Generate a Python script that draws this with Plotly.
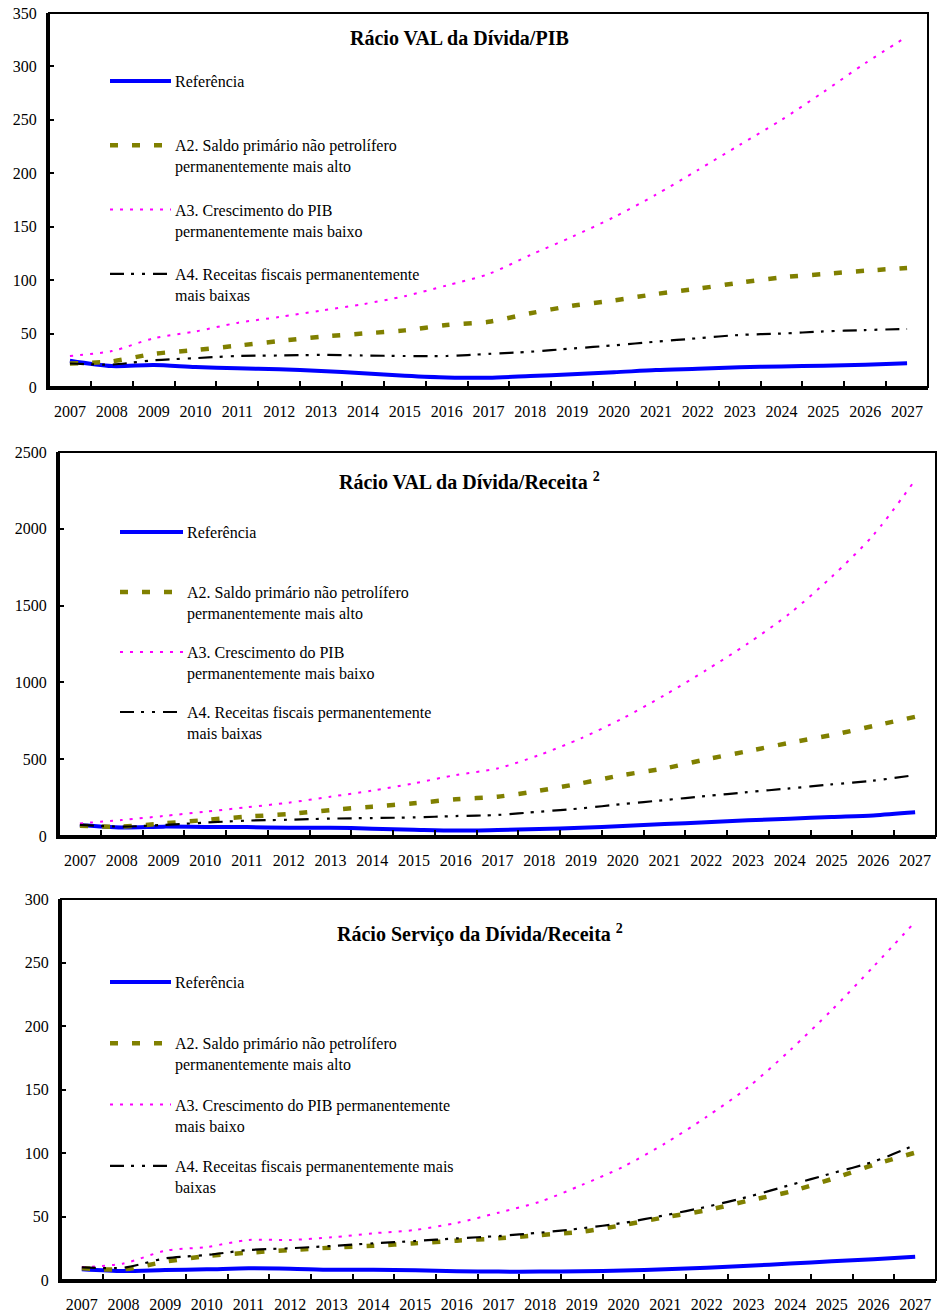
import plotly.graph_objects as go

W, H = 937, 1315
years = [str(y) for y in range(2007, 2028)]

# Panel 1: Rácio VAL da Dívida/PIB
pib_ref = [24.6, 19.6, 20.6, 18.7, 17.5, 16.5, 15.0, 12.8, 10.6, 9.0, 8.7,
           10.3, 11.9, 13.7, 15.9, 17.1, 18.4, 19.3, 19.9, 20.9, 22.2]
pib_a2 = [22, 24, 31, 34.6, 38.7, 43, 47, 50, 53, 58, 61,
          69, 76, 81, 87, 92, 97.6, 102.6, 105.7, 108.8, 111.4]
pib_a3 = [29, 33.6, 45.6, 52, 60, 65.5, 71.5, 77.5, 85, 95, 105.7,
          123.5, 140.6, 159, 180, 203, 226.5, 250, 276, 303, 328]
pib_a4 = [22, 21, 25, 27, 29, 29.5, 30, 29.5, 29, 29, 31,
          33, 36, 39, 42.4, 45.6, 48.7, 50, 52, 53.3, 54.3]

# Panel 2: Rácio VAL da Dívida/Receita
rec_ref = [72, 56, 61, 59, 58, 54, 54, 48, 41, 35, 39,
           45, 54, 65, 78, 89, 102, 113, 124, 134, 154]
rec_a2 = [67, 61, 82, 104, 126, 143, 169, 191, 213, 239, 256,
          295, 343, 397, 440, 499, 553, 607, 657, 716, 776]
rec_a3 = [82, 104, 130, 158, 187, 217, 256, 295, 343, 397, 440,
          527, 636, 766, 917, 1080, 1254, 1449, 1687, 1959, 2317]
rec_a4 = [72, 61, 72, 87, 100, 106, 113, 117, 121, 130, 137,
          158, 180, 208, 234, 260, 286, 310, 336, 360, 397]

# Panel 3: Rácio Serviço da Dívida/Receita
srv_ref = [8.4, 7.0, 7.9, 8.4, 9.2, 8.9, 8.1, 8.1, 7.6, 6.8, 6.6,
           6.6, 6.8, 7.4, 8.4, 9.7, 11.3, 12.9, 14.7, 16.3, 18.4]
srv_a2 = [9.2, 8.4, 14.4, 18.9, 21.5, 23.6, 25.5, 27.0, 28.9, 31.0, 32.8,
          35.4, 38.0, 43.3, 49.4, 55.0, 62.5, 69.6, 79.5, 90.6, 100.3]
srv_a3 = [10, 13, 23, 26, 31.5, 31.5, 33.6, 36.8, 39.4, 45, 53,
          61.7, 74.8, 89.3, 107.6, 128.6, 152, 181, 212.6, 246.8, 282]
srv_a4 = [10, 9.7, 17, 19.7, 23.6, 25, 26.8, 28.9, 30.7, 32.8, 34.6,
          37.3, 40.7, 45, 51, 57.7, 65.6, 74.8, 84, 93.2, 106.3]

titles = ["Rácio VAL da Dívida/PIB",
          "Rácio VAL da Dívida/Receita <sup>2</sup>",
          "Rácio Serviço da Dívida/Receita <sup>2</sup>"]

legend_texts = [
    ["Referência",
     "A2. Saldo primário não petrolífero<br>permanentemente mais alto",
     "A3. Crescimento do PIB<br>permanentemente mais baixo",
     "A4. Receitas fiscais permanentemente<br>mais baixas"],
    ["Referência",
     "A2. Saldo primário não petrolífero<br>permanentemente mais alto",
     "A3. Crescimento do PIB<br>permanentemente mais baixo",
     "A4. Receitas fiscais permanentemente<br>mais baixas"],
    ["Referência",
     "A2. Saldo primário não petrolífero<br>permanentemente mais alto",
     "A3. Crescimento do PIB permanentemente<br>mais baixo",
     "A4. Receitas fiscais permanentemente mais<br>baixas"],
]

y_ranges = [350, 2500, 300]
y_dticks = [50, 500, 50]

# series styles: colour, width, dash
styles = [
    ("#0000FF", 4, "solid"),
    ("#808000", 4.5, "8px,14px"),
    ("#FF00FF", 2, "3px,7px"),
    ("#000000", 2.2, "14px,7px,3px,8px,3px,8px"),
]

panels = [
    [pib_ref, pib_a2, pib_a3, pib_a4],
    [rec_ref, rec_a2, rec_a3, rec_a4],
    [srv_ref, srv_a2, srv_a3, srv_a4],
]

# plot-area boxes in pixels: left, right, top, bottom
boxes = [(49, 928, 13, 387), (59, 936, 452, 836), (61, 936, 899, 1280)]
# legend layout in pixels: sample x0, x1, first row y, row step
legend_pos = [(110, 171, 81, 64.3), (120, 183, 532, 60), (110, 171, 982, 61.3)]
title_pos = [(459, 38), (469, 481), (480, 933)]

FONT = "Liberation Serif, Times New Roman, serif"


def px(x):
    return x / W


def py(y):
    return 1 - y / H


fig = go.Figure()
layout = dict(
    template="none",
    width=W, height=H,
    margin=dict(l=0, r=0, t=0, b=0, pad=0, autoexpand=False),
    paper_bgcolor="white", plot_bgcolor="white",
    showlegend=False,
    font=dict(family=FONT, size=16, color="black"),
)
shapes = []
annotations = []

for i, (series, box) in enumerate(zip(panels, boxes)):
    n = "" if i == 0 else str(i + 1)
    xa, ya = "x" + n, "y" + n
    for vals, (col, w, dash) in zip(series, styles):
        fig.add_trace(go.Scatter(
            x=years, y=vals, xaxis=xa, yaxis=ya, mode="lines",
            line=dict(color=col, width=w, dash=dash, shape="spline", smoothing=0.8),
            hoverinfo="skip",
        ))
    l, r, t, b = box
    layout["xaxis" + n] = dict(
        domain=[px(l), px(r)], anchor=ya, type="category", automargin=False,
        range=[-0.5, len(years) - 0.5],
        tickson="boundaries", ticks="inside", ticklen=6, tickwidth=1.5,
        tickcolor="black", showline=True, linecolor="black", linewidth=3,
        showgrid=False, zeroline=False, ticklabelstandoff=8,
        tickfont=dict(family=FONT, size=16, color="black"),
        fixedrange=True,
    )
    layout["yaxis" + n] = dict(
        domain=[py(b), py(t)], anchor=xa, range=[0, y_ranges[i]], automargin=False,
        dtick=y_dticks[i], tick0=0, ticks="inside", ticklen=5, tickwidth=1.5,
        tickcolor="black", showline=True, linecolor="black", linewidth=3,
        showgrid=False, zeroline=False, ticklabelstandoff=6,
        tickfont=dict(family=FONT, size=16, color="black"),
        fixedrange=True,
    )
    # frame around the plotting area
    shapes.append(dict(type="rect", xref=xa + " domain", yref=ya + " domain",
                       x0=0, x1=1, y0=0, y1=1, line=dict(color="black", width=2)))

    # panel title
    tx, ty = title_pos[i]
    annotations.append(dict(
        text="<b>" + titles[i] + "</b>", x=px(tx), y=py(ty), xref="paper", yref="paper",
        xanchor="center", yanchor="middle", showarrow=False,
        font=dict(family=FONT, size=20, color="black"),
    ))

    # legend: line samples and labels
    lx0, lx1, ly, step = legend_pos[i]
    for k, (label, (col, w, dash)) in enumerate(zip(legend_texts[i], styles)):
        yy = ly + k * step
        shapes.append(dict(type="line", xref="paper", yref="paper",
                           x0=px(lx0), x1=px(lx1), y0=py(yy), y1=py(yy),
                           line=dict(color=col, width=w, dash=dash)))
        annotations.append(dict(
            text=label, x=px(lx1 + 2), y=py(yy - 10), xref="paper", yref="paper",
            xanchor="left", yanchor="top", align="left", showarrow=False,
            font=dict(family=FONT, size=16, color="black"),
        ))

layout["shapes"] = shapes
layout["annotations"] = annotations
fig.update_layout(**layout)
fig.write_html("out.html")
